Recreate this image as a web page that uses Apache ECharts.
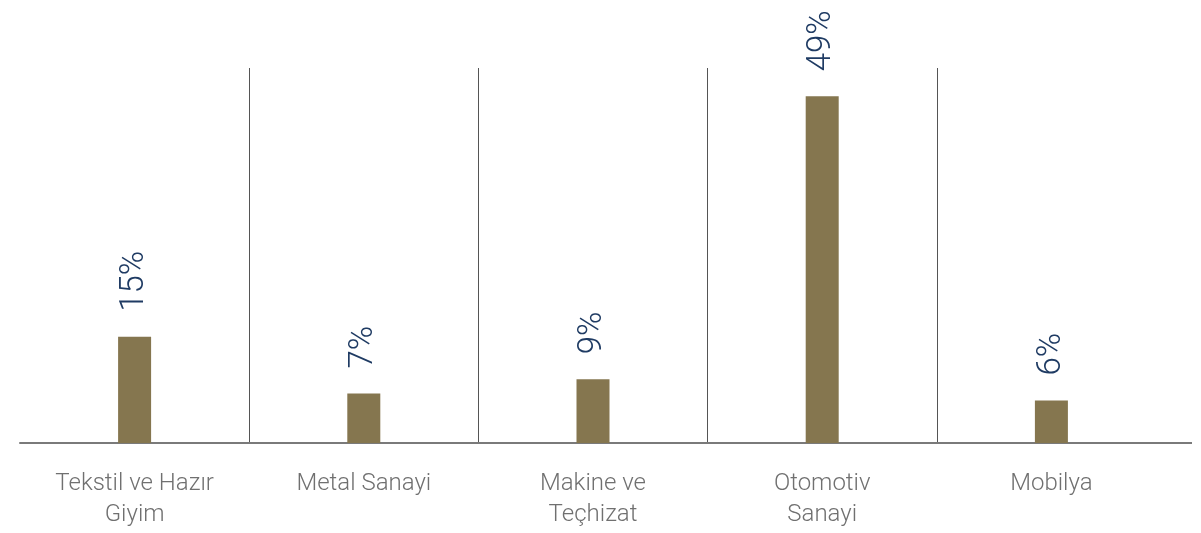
<!DOCTYPE html>
<html><head><meta charset="utf-8">
<script src="https://cdn.jsdelivr.net/npm/echarts@6/dist/echarts.min.js"></script>
<style>html,body{margin:0;padding:0;background:#fff}#c{width:1201px;height:533px}</style>
</head><body><div id="c"></div>
<script>
const categories = ['Tekstil ve Hazır\nGiyim', 'Metal Sanayi', 'Makine ve\nTeçhizat', 'Otomotiv\nSanayi', 'Mobilya'];
const shares = [15, 7, 9, 49, 6];

const chart = echarts.init(document.getElementById('c'));
chart.setOption({
  animation: false,
  grid: { left: 20, right: 35, top: 68, bottom: 90, containLabel: false },
  xAxis: {
    type: 'category',
    data: categories,
    axisLine: { lineStyle: { color: '#7a7a7a', width: 2 } },
    axisTick: { show: false },
    axisLabel: {
      interval: 0, color: '#707070', fontFamily: 'Roboto', fontWeight: 300,
      fontSize: 24, lineHeight: 31, margin: 25
    },
    splitLine: { show: true, showMinLine: false, showMaxLine: false, lineStyle: { color: '#555', width: 1 } }
  },
  yAxis: { type: 'value', min: 0, max: 53, show: false, splitLine: { show: false } },
  graphic: [{
    type: 'line', z: 10,
    shape: { x1: 1160, y1: 443, x2: 1192, y2: 443 },
    style: { stroke: '#7a7a7a', lineWidth: 2 }
  }],
  series: [{
    type: 'bar',
    data: shares,
    barWidth: 33,
    itemStyle: { color: '#85764f' },
    label: {
      show: true, position: 'top', rotate: 90, align: 'left', verticalAlign: 'middle',
      distance: 25, formatter: '{c}%', color: '#1f3b63',
      fontFamily: 'Roboto', fontWeight: 300, fontSize: 33
    }
  }]
});
</script></body></html>
